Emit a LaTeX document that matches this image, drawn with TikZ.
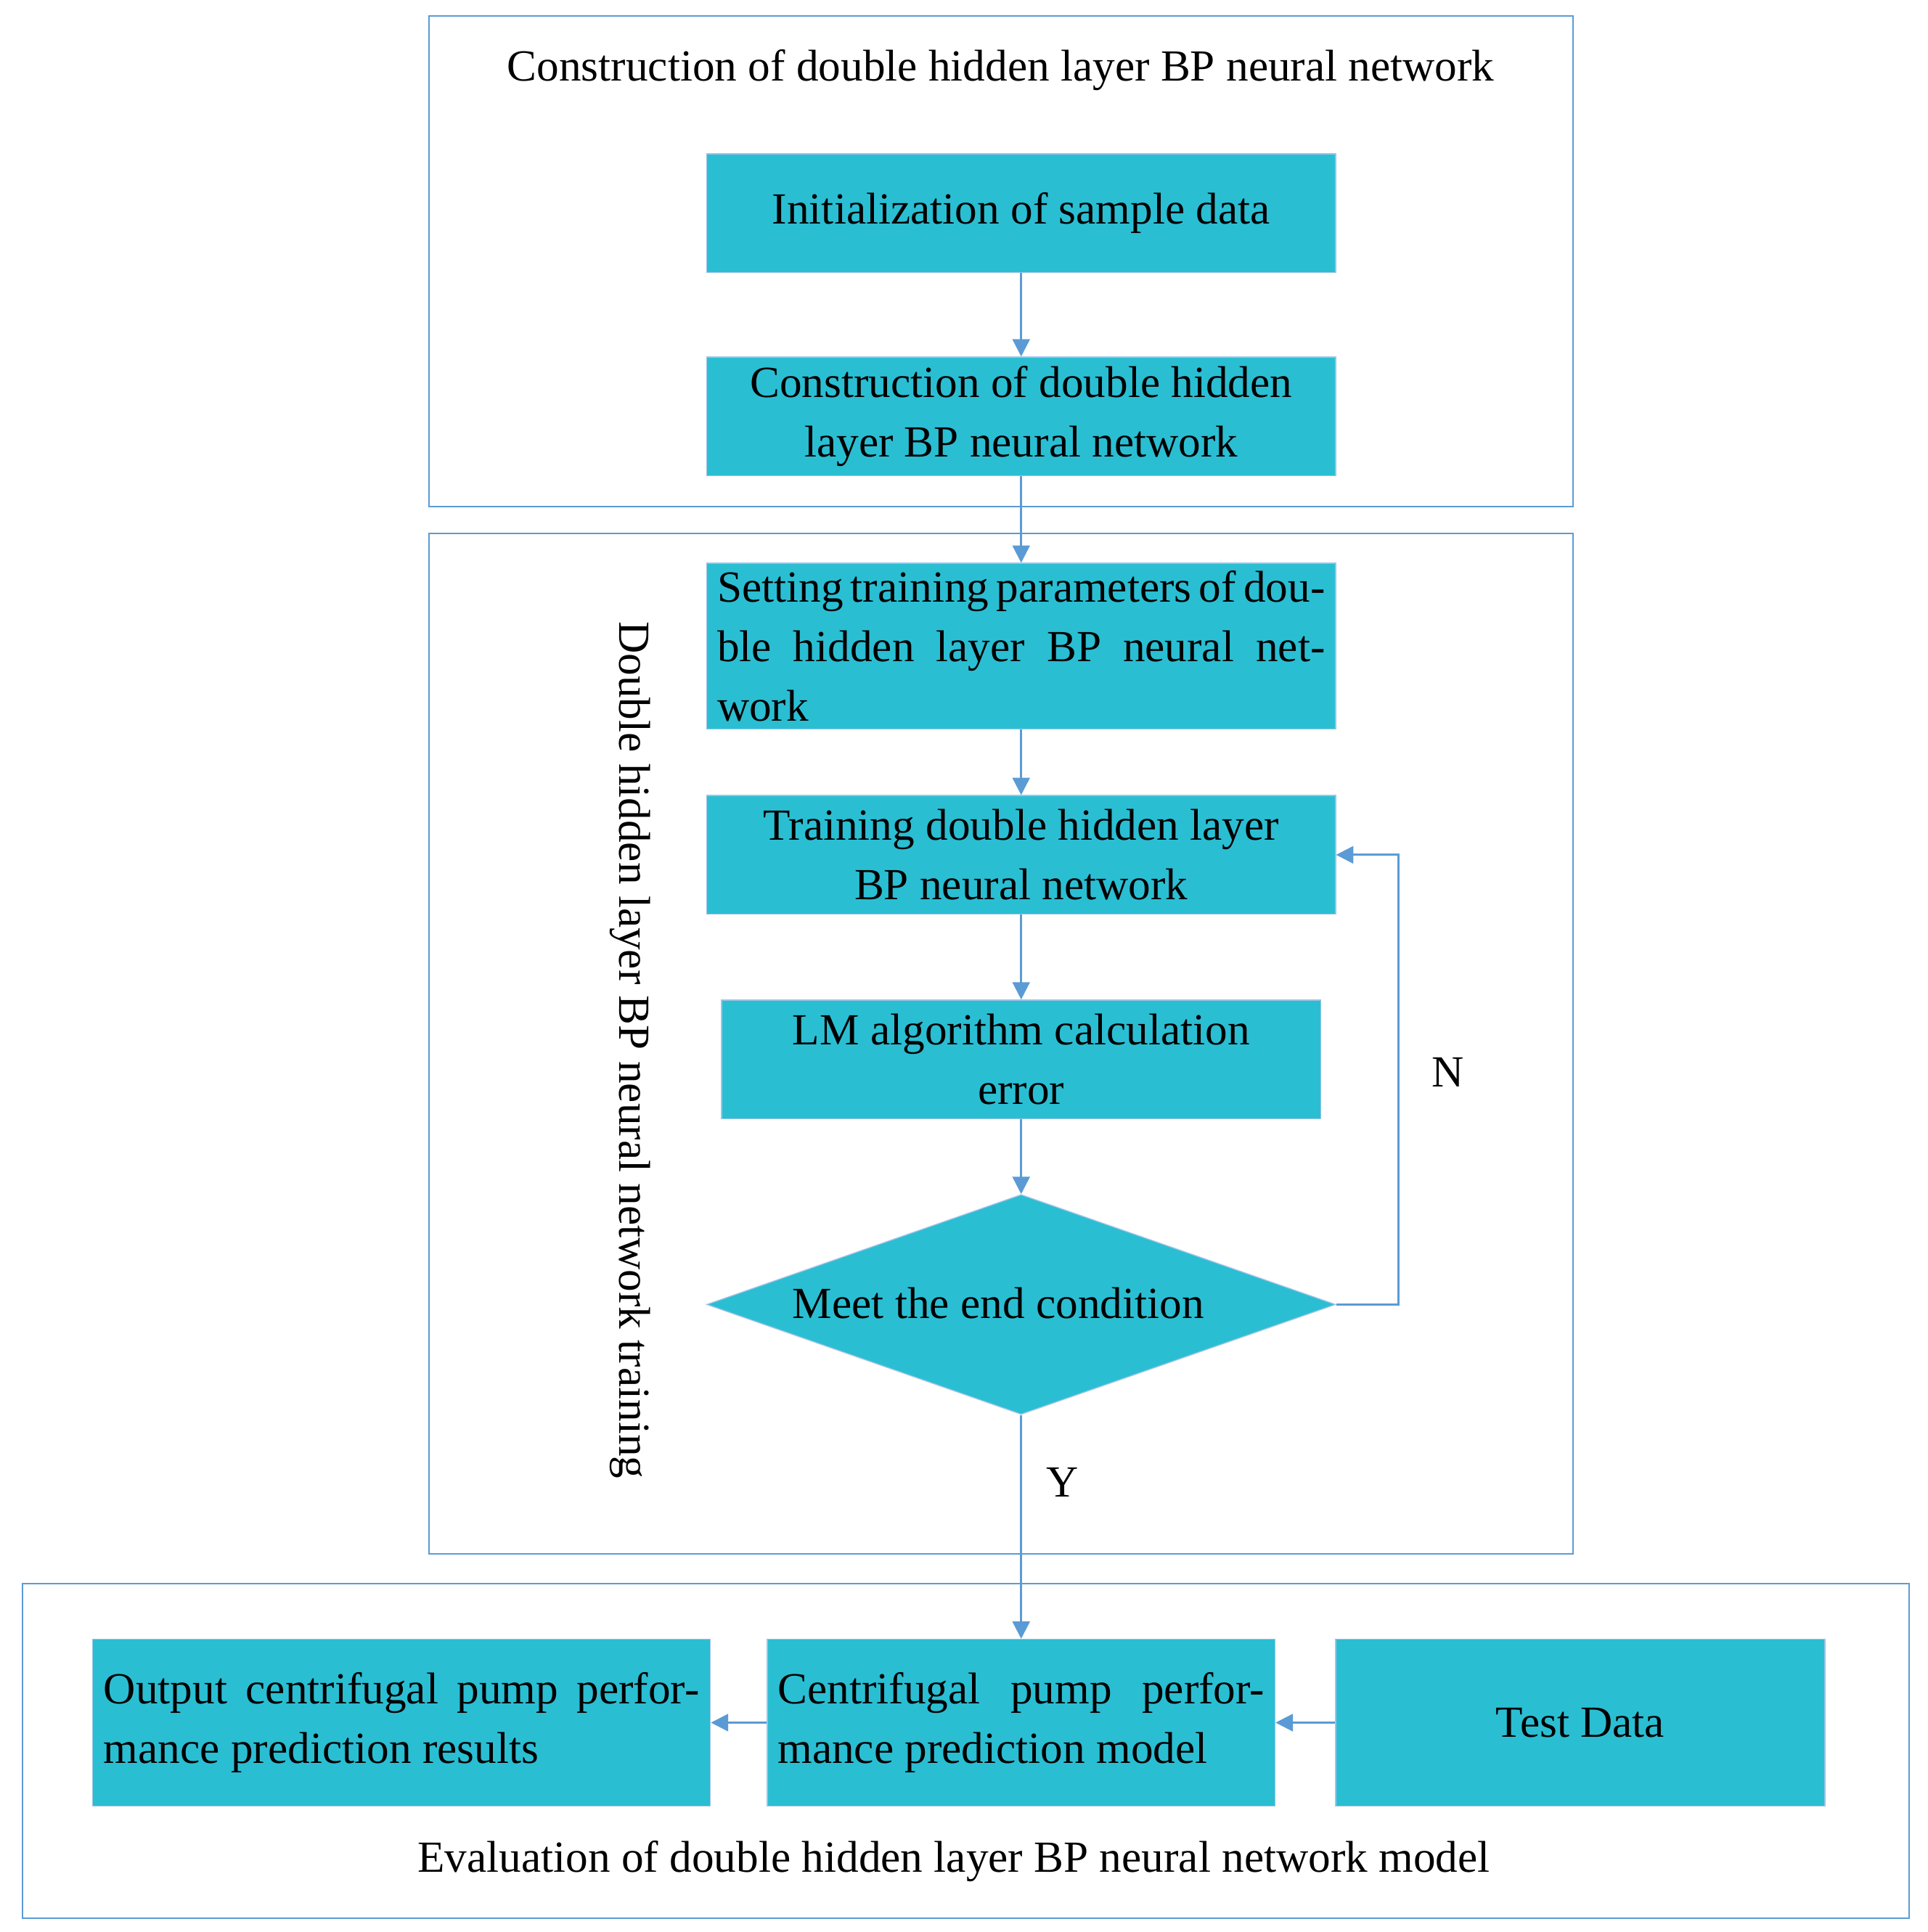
\documentclass[tikz,border=0pt]{standalone}
\usepackage{fontspec}
\setmainfont{Liberation Serif}
\usetikzlibrary{shapes.geometric,arrows.meta}
\definecolor{fillc}{HTML}{2ABED3}
\definecolor{linec}{HTML}{5B9BD5}
\begin{document}
\begin{tikzpicture}[x=0.5pt,y=-0.5pt,
  font=\fontsize{18pt}{24pt}\selectfont,
  frame/.style={draw=linec,line width=0.6pt,inner sep=0pt},
  blk/.style={fill=fillc,draw=linec!60,line width=0.4pt,inner sep=0pt,align=center},
  arr/.style={draw=linec,line width=0.8pt,-{Triangle[length=7pt,width=7pt]}}]
\useasboundingbox (0,0) rectangle (1560,1564);
% frames
\node[frame,minimum width=463pt,minimum height=198.5pt] (f1) at (810,211.5) {};
\node[frame,minimum width=463pt,minimum height=413pt] (f2) at (810,845) {};
\node[frame,minimum width=763.5pt,minimum height=135.5pt] (f3) at (781.5,1417.5) {};
\node (t1) at (810,57) {Construction of double hidden layer BP neural network};
\node (t3) at (772,1507) {Evaluation of double hidden layer BP neural network model};
\node[rotate=-90] (t2) at (510,850) {Double hidden layer BP neural network training};
% blocks
\node[blk,minimum width=254.5pt,minimum height=48pt] (init) at (826.5,172.5) {Initialization of sample data};
\node[blk,minimum width=254.5pt,minimum height=48pt] (cons) at (826.5,337) {Construction of double hidden\\layer BP neural network};
\node[blk,minimum width=254.5pt,minimum height=67pt,text width=246pt,align=justify] (set) at (826.5,523) {Setting training parameters of double hidden layer BP neural network};
\node[blk,minimum width=254.5pt,minimum height=48pt] (train) at (826.5,692) {Training double hidden layer\\BP neural network};
\node[blk,minimum width=242.5pt,minimum height=48pt] (lm) at (826.5,857.5) {LM algorithm calculation\\error};
\node[blk,diamond,aspect=2.86,minimum width=254.5pt,minimum height=89pt,inner sep=0pt] (dec) at (826.5,1056) {};
\node (dect) at (808,1055) {Meet the end condition};
\node[blk,minimum width=250pt,minimum height=67.5pt,text width=241pt,align=justify] (out) at (325,1394.5) {Output centrifugal pump performance prediction results};
\node[blk,minimum width=205.5pt,minimum height=67.5pt,text width=197pt,align=justify] (cen) at (826.5,1394.5) {Centrifugal pump performance prediction model};
\node[blk,minimum width=198pt,minimum height=67.5pt] (test) at (1279,1394.5) {Test Data};
\node (N) at (1172,868) {N};
\node (Y) at (860,1200) {Y};
\coordinate (c1) at (1132,1056);
\coordinate (c2) at (1132,692);
% arrows
\draw[arr] (init) -- (cons);
\draw[arr] (cons) -- (set);
\draw[arr] (set) -- (train);
\draw[arr] (train) -- (lm);
\draw[arr] (lm) -- (dec);
\draw[arr] (dec.east) -- (c1) -- (c2) -- (train.east);
\draw[arr] (dec.south) -- (cen.north);
\draw[arr] (test) -- (cen);
\draw[arr] (cen) -- (out);
\end{tikzpicture}
\end{document}
